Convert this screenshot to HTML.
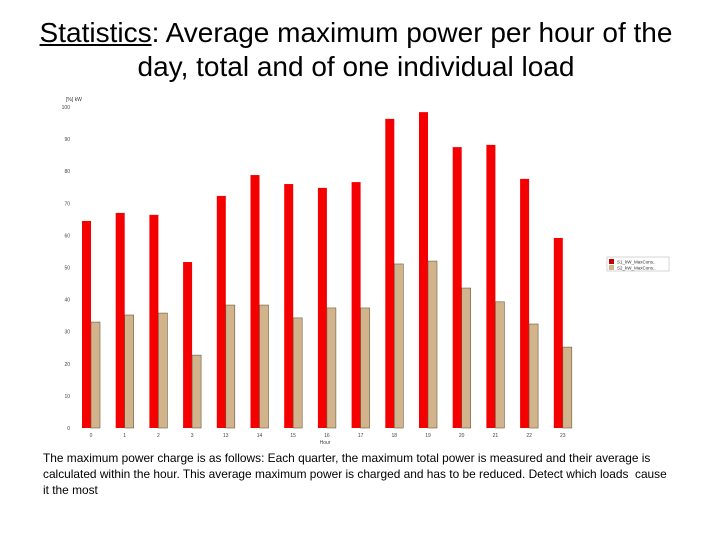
<!DOCTYPE html>
<html><head><meta charset="utf-8"><style>
body{margin:0;width:720px;height:540px;background:#fff;font-family:"Liberation Sans",sans-serif;overflow:hidden;position:relative}
#title{position:absolute;top:16px;left:-4px;width:720px;text-align:center;font-size:28px;line-height:34px;color:#000;white-space:nowrap}
#note{position:absolute;left:43px;top:450px;width:628px;font-size:11.9px;line-height:16px;color:#000}
svg{position:absolute;left:0;top:0}
</style></head><body>
<div id="title"><u>Statistics</u>: Average maximum power per hour of the<br>day, total and of one individual load</div>
<svg id="chart" width="720" height="540"></svg>
<div id="note">The maximum power charge is as follows: Each quarter, the maximum total power is measured and their average is calculated within the hour. This average maximum power is charged and has to be reduced. Detect which loads &nbsp;cause it the most</div>
<script>
const hours=["0","1","2","3","13","14","15","16","17","18","19","20","21","22","23"];
const totalLoad=[64.5,67,66.4,51.7,72.3,78.8,76,74.8,76.6,96.3,98.4,87.5,88.2,77.6,59.2];
const singleLoad=[33,35.2,35.8,22.7,38.3,38.3,34.3,37.4,37.4,51.1,52,43.6,39.3,32.4,25.2];
const yTicks=[0,10,20,30,40,50,60,70,80,90,100];
const NS="http://www.w3.org/2000/svg";
const svg=document.getElementById('chart');
const y0=428,y1=107,x0=82,step=33.7,bw=9;
function ys(v){return y0-(v/100)*(y0-y1);}
function xs(i){return x0+i*step;}
function mk(t,a){const e=document.createElementNS(NS,t);for(const k in a)e.setAttribute(k,a[k]);svg.appendChild(e);return e;}
yTicks.forEach(function(t){
 const e=mk('text',{x:70,y:ys(t)+2,'font-size':5,fill:'#444','text-anchor':'end'});e.textContent=t;
 
 
});
const yl=mk('text',{x:66,y:101,'font-size':5,fill:'#333'});yl.textContent='[%] kW';


hours.forEach(function(h,i){
 const r=mk('rect',{x:xs(i),y:ys(totalLoad[i]),width:bw,height:y0-ys(totalLoad[i]),fill:'#f50000'});
 
 
 const s=mk('rect',{x:xs(i)+bw,y:ys(singleLoad[i]),width:bw,height:y0-ys(singleLoad[i]),fill:'#d2b48c',stroke:'#6b5a40','stroke-width':0.6});
 
 
 const l=mk('text',{x:xs(i)+bw,y:437,'font-size':5,fill:'#444','text-anchor':'middle'});l.textContent=h;
 
 
});
const xl=mk('text',{x:325,y:444,'font-size':5,fill:'#444','text-anchor':'middle'});xl.textContent='Hour';


const lg=mk('rect',{x:607,y:257,width:62,height:14,fill:'#fff',stroke:'#bbb','stroke-width':0.6});


[['#c00000','total'],['#d2b48c','single']].forEach(function(d,i){
 const b=mk('rect',{x:609,y:259+i*6,width:5,height:5,fill:d[0]});
 
 
 const t=mk('text',{x:617,y:263.5+i*6,'font-size':4.5,fill:'#333'});t.textContent=(i?'S2':'S1')+'_kW_MaxCons..';
 
 
});
</script>
</body></html>
